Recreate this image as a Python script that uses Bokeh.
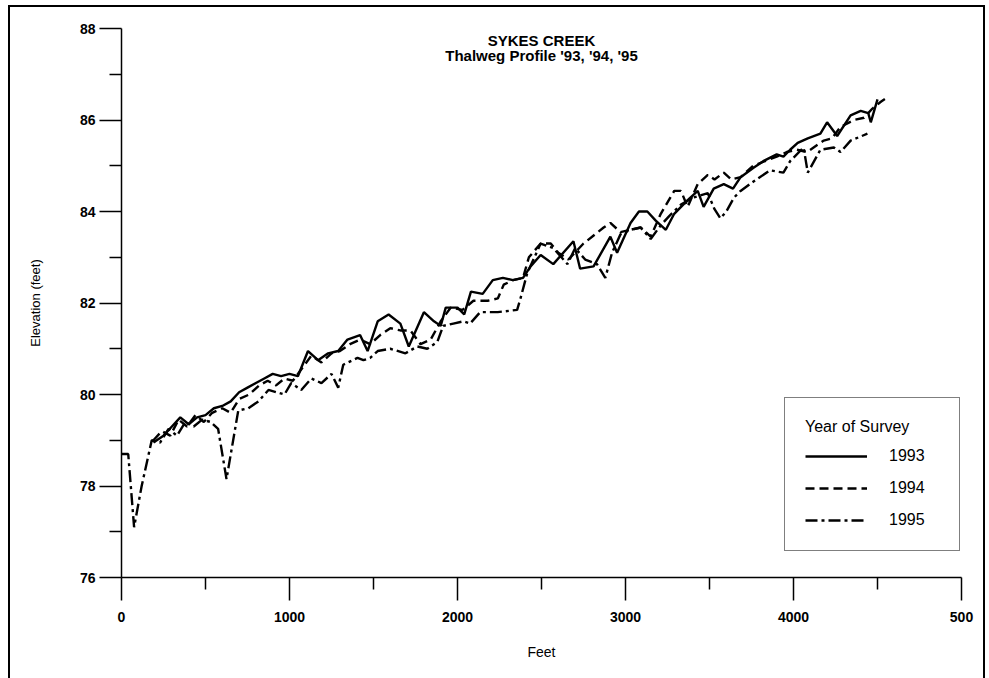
from bokeh.plotting import figure
from bokeh.models import Range1d, FixedTicker, Label
from bokeh.embed import file_html
from bokeh.resources import INLINE

# ---- data ----
feet_1993 = [190, 250, 300, 350, 400, 450, 500, 550, 600, 650, 700, 750, 800, 850, 900, 950,
             1000, 1050, 1110, 1170, 1230, 1290, 1345, 1420, 1465, 1525, 1590, 1660, 1710, 1800,
             1860, 1900, 1930, 2000, 2040, 2080, 2150, 2210, 2270, 2330, 2390, 2435, 2495, 2570,
             2690, 2730, 2810, 2910, 2950, 3030, 3080, 3130, 3180, 3240, 3290, 3370, 3430, 3465,
             3525, 3585, 3640, 3685, 3760, 3820, 3900, 3940, 3980, 4025, 4085, 4160, 4200, 4260,
             4340, 4400, 4445, 4460, 4500]
elev_1993 = [78.95, 79.1, 79.3, 79.5, 79.35, 79.5, 79.55, 79.7, 79.75, 79.85, 80.05, 80.15, 80.25,
             80.35, 80.45, 80.4, 80.45, 80.4, 80.95, 80.75, 80.9, 80.95, 81.2, 81.3, 80.95, 81.6,
             81.75, 81.55, 81.05, 81.8, 81.6, 81.5, 81.9, 81.9, 81.75, 82.25, 82.2, 82.5, 82.55,
             82.5, 82.55, 82.8, 83.05, 82.85, 83.35, 82.75, 82.8, 83.45, 83.1, 83.75, 84.0, 84.0,
             83.8, 83.6, 83.95, 84.25, 84.45, 84.1, 84.5, 84.6, 84.5, 84.75, 84.95, 85.1, 85.25,
             85.2, 85.35, 85.5, 85.6, 85.7, 85.95, 85.65, 86.1, 86.2, 86.15, 85.95, 86.45]

feet_1994 = [190, 240, 290, 340, 390, 440, 490, 540, 600, 650, 700, 760, 820, 870, 920, 970,
             1020, 1080, 1130, 1190, 1250, 1300, 1360, 1420, 1480, 1540, 1600, 1660, 1720, 1780,
             1840, 1900, 1960, 2030, 2095, 2180, 2240, 2275, 2330, 2390, 2425, 2495, 2555, 2600,
             2660, 2750, 2870, 2910, 2970, 3030, 3090, 3150, 3210, 3290, 3330, 3370, 3430, 3490,
             3530, 3585, 3630, 3685, 3760, 3830, 3900, 3960, 4020, 4080, 4180, 4230, 4280,
             4360, 4420, 4470, 4520, 4560]
elev_1994 = [79.0, 79.2, 79.1, 79.45, 79.3, 79.55, 79.4, 79.6, 79.7, 79.6, 79.9, 80.0, 80.2, 80.3,
             80.2, 80.35, 80.3, 80.6, 80.85, 80.7, 80.9, 80.95, 81.1, 81.2, 81.1, 81.3, 81.45,
             81.4, 81.4, 81.1, 81.2, 81.6, 81.9, 81.85, 82.05, 82.05, 82.1, 82.4, 82.5, 82.55,
             83.0, 83.3, 83.3, 83.1, 82.95, 83.3, 83.65, 83.75, 83.55, 83.6, 83.65, 83.45, 83.95,
             84.45, 84.45, 84.1, 84.6, 84.8, 84.7, 84.85, 84.7, 84.75, 85.0, 85.1, 85.2, 85.3,
             85.35, 85.3, 85.55, 85.6, 85.85, 86.0, 86.05, 86.25, 86.4, 86.5]

feet_1995 = [0, 40, 75, 120, 180, 230, 280, 330, 380, 430, 480, 530, 575, 625, 695, 755, 815,
             875, 970, 1010, 1070, 1130, 1190, 1250, 1290, 1320, 1405, 1440, 1480, 1525, 1600,
             1690, 1760, 1820, 1880, 1915, 1975, 2035, 2075, 2135, 2240, 2355, 2375, 2415, 2495,
             2570, 2655, 2700, 2760, 2830, 2880, 2920, 2970, 3030, 3090, 3150, 3210, 3260, 3330,
             3400, 3490, 3530, 3565, 3600, 3645, 3685, 3760, 3860, 3940, 3980, 4060, 4085, 4160,
             4240, 4280, 4340, 4440]
elev_1995 = [78.7, 78.7, 77.1, 78.0, 79.0, 78.95, 79.25, 79.1, 79.4, 79.3, 79.45, 79.4, 79.25,
             78.15, 79.65, 79.7, 79.85, 80.1, 80.0, 80.25, 80.1, 80.35, 80.25, 80.45, 80.15,
             80.65, 80.8, 80.75, 80.8, 80.95, 81.0, 80.9, 81.05, 81.0, 81.15, 81.5, 81.55, 81.6,
             81.55, 81.8, 81.8, 81.85, 82.1, 82.65, 83.3, 83.2, 82.85, 83.2, 82.95, 82.85, 82.55,
             83.1, 83.5, 83.6, 83.65, 83.4, 83.7, 83.9, 84.15, 84.3, 84.4, 84.05, 83.85, 84.0,
             84.3, 84.45, 84.65, 84.9, 84.85, 85.1, 85.4, 84.85, 85.35, 85.4, 85.3, 85.55, 85.7]

x_ticks = [0, 1000, 2000, 3000, 4000, 5000]
x_minor = [500, 1500, 2500, 3500, 4500]
x_tick_labels = {0: "0", 1000: "1000", 2000: "2000", 3000: "3000", 4000: "4000", 5000: "500"}
y_ticks = [76, 78, 80, 82, 84, 86, 88]
y_minor = [77, 79, 81, 83, 85, 87]

title_lines = ["SYKES CREEK", "Thalweg Profile '93, '94, '95"]
series_names = ["1993", "1994", "1995"]

FONT = "Liberation Sans"

p = figure(frame_width=840, frame_height=549,
           min_border_left=111, min_border_right=22, min_border_top=21, min_border_bottom=101,
           x_range=Range1d(0, 5000), y_range=Range1d(76, 88),
           output_backend="svg", toolbar_location=None)
p.margin = (7, 0, 0, 10)
p.styles = {"outline": "2px solid black"}
p.background_fill_color = "white"
p.border_fill_color = "white"
p.outline_line_color = None
p.xgrid.visible = False
p.ygrid.visible = False

p.line(feet_1993, elev_1993, line_color="black", line_width=2.4, legend_label=series_names[0])
p.line(feet_1994, elev_1994, line_color="black", line_width=2.4, line_dash="9 5",
       legend_label=series_names[1])
p.line(feet_1995, elev_1995, line_color="black", line_width=2.4, line_dash="12 4 3 4",
       legend_label=series_names[2])

# axes
for ax in (p.xaxis[0], p.yaxis[0]):
    ax.axis_line_color = "black"
    ax.axis_line_width = 1.5
    ax.major_tick_line_color = "black"
    ax.major_tick_line_width = 1.5
    ax.minor_tick_line_color = "black"
    ax.minor_tick_line_width = 1.5
    ax.major_tick_in = 0
    ax.minor_tick_in = 0
    ax.major_label_text_font = FONT
    ax.major_label_text_font_size = "14px"
    ax.major_label_text_font_style = "bold"
    ax.major_label_text_color = "black"
    ax.axis_label_text_font = FONT
    ax.axis_label_text_font_style = "normal"
    ax.axis_label_text_color = "black"

p.xaxis.ticker = FixedTicker(ticks=x_ticks, minor_ticks=x_minor)
p.xaxis.major_label_overrides = x_tick_labels
p.xaxis.major_tick_out = 23
p.xaxis.minor_tick_out = 12
p.xaxis.major_label_standoff = 11
p.xaxis.axis_label = "Feet"
p.xaxis.axis_label_text_font_size = "14px"
p.xaxis.axis_label_standoff = 19

p.yaxis.ticker = FixedTicker(ticks=y_ticks, minor_ticks=y_minor)
p.yaxis.major_tick_out = 22
p.yaxis.minor_tick_out = 12
p.yaxis.major_label_standoff = 4
p.yaxis.axis_label = "Elevation (feet)"
p.yaxis.axis_label_text_font_size = "13px"
p.yaxis.axis_label_standoff = 34

# title inside the plot area
p.add_layout(Label(x=2500, y=87.74, text=title_lines[0], text_align="center",
                   text_baseline="middle", text_font=FONT, text_font_style="bold",
                   text_font_size="15px", text_color="black"))
p.add_layout(Label(x=2500, y=87.41, text=title_lines[1], text_align="center",
                   text_baseline="middle", text_font=FONT, text_font_style="bold",
                   text_font_size="15px", text_color="black"))

# legend
lg = p.legend[0]
lg.title = "Year of Survey"
lg.title_text_font = FONT
lg.title_text_font_style = "normal"
lg.title_text_font_size = "16px"
lg.title_text_color = "black"
lg.title_standoff = 10
lg.label_text_font = FONT
lg.label_text_font_size = "16px"
lg.label_text_color = "black"
lg.location = (663, 26)
lg.padding = 20
lg.spacing = 12
lg.glyph_width = 62
lg.glyph_height = 20
lg.label_height = 20
lg.label_width = 50
lg.label_standoff = 22
lg.margin = 0
lg.border_line_color = "black"
lg.border_line_width = 1.5
lg.background_fill_color = "white"
lg.background_fill_alpha = 1.0

open("out.html", "w").write(file_html(p, INLINE))
